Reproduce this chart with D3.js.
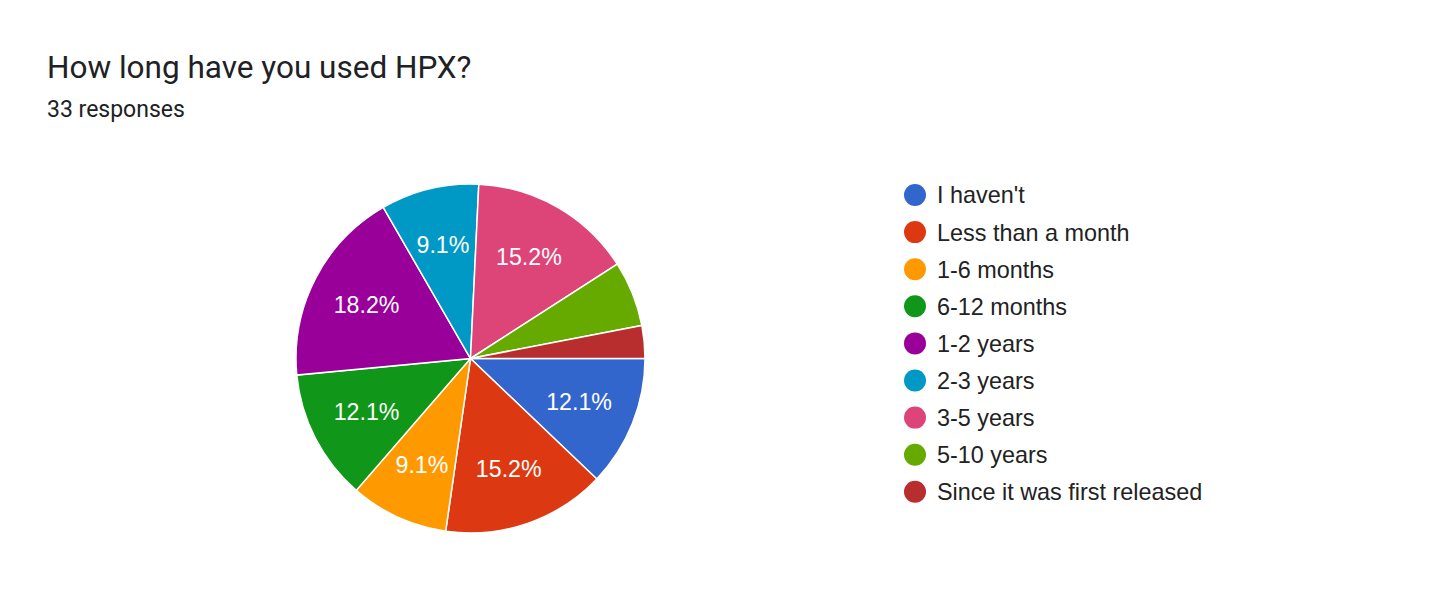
<!DOCTYPE html>
<html>
<head>
<meta charset="utf-8">
<script src="https://cdn.jsdelivr.net/npm/d3@7"></script>
<style>
  body { margin: 0; background: #fff; }
</style>
</head>
<body>
<script>
// donnees (33 reponses)
const categories = ["I haven't", "Less than a month", "1-6 months", "6-12 months", "1-2 years", "2-3 years", "3-5 years", "5-10 years", "Since it was first released"]
const counts = [4, 5, 3, 4, 6, 3, 5, 2, 1]
const colors = ["#3366cc", "#dc3912", "#ff9900", "#109618", "#990099", "#0099c6", "#dd4477", "#66aa00", "#b82e2e"]
const title = "How long have you used HPX?"
const subtitle = "33 responses"

const WIDTH = 1429
const HEIGHT = 601
const CX = 470.5, CY = 358.5, R = 174.5
const LABEL_MIN = 0.07 // pas de texte pour les petites parts

const total = d3.sum(counts)
const data = categories.map((c, i) => ({ name: c, value: counts[i], color: colors[i] }))

const svg = d3.select('body').append('svg')
  .attr('width', WIDTH)
  .attr('height', HEIGHT)

svg.append('text')
  .attr('x', 47).attr('y', 78)
  .attr('font-family', 'Roboto, sans-serif')
  .attr('font-size', 31.5)
  .attr('fill', '#202124')
  .text(title)

svg.append('text')
  .attr('x', 47).attr('y', 117)
  .attr('font-family', 'Roboto, sans-serif')
  .attr('font-size', 23)
  .attr('fill', '#202124')
  .text(subtitle)

/*
* Camembert
*/
const pie = d3.pie()
  .value(d => d.value)
  .sort(null)
  .startAngle(Math.PI / 2)
  .endAngle(Math.PI / 2 + 2 * Math.PI)

const arc = d3.arc().innerRadius(0).outerRadius(R)
const labelArc = d3.arc().innerRadius(R * 0.67).outerRadius(R * 0.67)

const g = svg.append('g').attr('transform', `translate(${CX},${CY})`)
const arcs = pie(data)

g.selectAll('path')
  .data(arcs)
  .enter()
  .append('path')
  .attr('d', arc)
  .attr('fill', d => d.data.color)
  .attr('stroke', '#fff')
  .attr('stroke-width', 1.5)

g.selectAll('text')
  .data(arcs.filter(d => d.data.value / total >= LABEL_MIN))
  .enter()
  .append('text')
  .attr('transform', d => `translate(${labelArc.centroid(d)})`)
  .attr('text-anchor', 'middle')
  .attr('dy', '0.35em')
  .attr('font-family', '"Liberation Sans", Arial, sans-serif')
  .attr('font-size', 23.2)
  .attr('fill', '#fff')
  .text(d => (d.data.value / total * 100).toFixed(1) + '%')

/*
* Legende
*/
const legend = svg.append('g').attr('transform', 'translate(915, 195)')
const rows = legend.selectAll('g')
  .data(data)
  .enter()
  .append('g')
  .attr('transform', (d, i) => `translate(0, ${i * 37.1})`)

rows.append('circle')
  .attr('r', 11)
  .attr('fill', d => d.color)

rows.append('text')
  .attr('x', 22)
  .attr('dy', '0.36em')
  .attr('font-family', '"Liberation Sans", Arial, sans-serif')
  .attr('font-size', 23.4)
  .attr('fill', '#222')
  .text(d => d.name)
</script>
</body>
</html>
